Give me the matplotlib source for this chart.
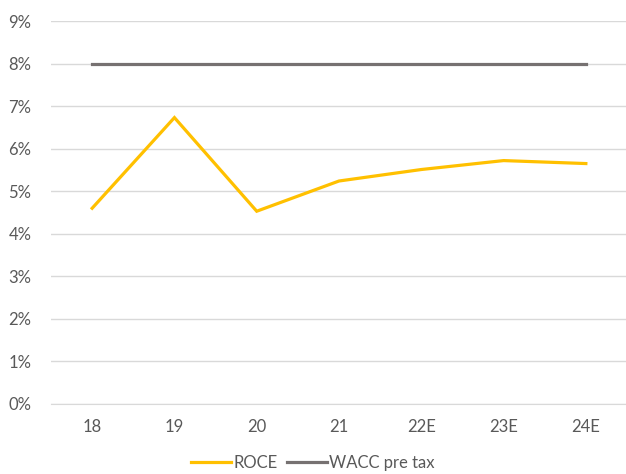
import matplotlib.pyplot as plt
from matplotlib.ticker import FuncFormatter

categories = ["18", "19", "20", "21", "22E", "23E", "24E"]
roce = [4.60, 6.73, 4.53, 5.24, 5.51, 5.72, 5.65]
wacc = [8.0, 8.0, 8.0, 8.0, 8.0, 8.0, 8.0]

plt.rcParams['font.family'] = ['Lato', 'DejaVu Sans']
fig = plt.figure(figsize=(6.26, 4.74), dpi=100)
ax = fig.add_axes([51/626, 1-404/474, 576/626, 383/474])

x = range(len(categories))
ax.plot(x, roce, color='#FFC000', lw=2.3, label='ROCE', solid_joinstyle='miter')
ax.plot(x, wacc, color='#767171', lw=2.3, label='WACC pre tax')

ax.set_xlim(-0.5, len(categories) - 0.5)
ax.set_ylim(0, 9)
ax.set_yticks(range(0, 10))
ax.yaxis.set_major_formatter(FuncFormatter(lambda v, p: f"{int(v)}%"))
ax.set_xticks(list(x))
ax.set_xticklabels(categories)
ax.grid(axis='y', color='#D9D9D9', lw=1)
ax.set_axisbelow(True)
for s in ['top', 'right', 'left']:
    ax.spines[s].set_visible(False)
ax.spines['bottom'].set_color('#D9D9D9')
ax.tick_params(axis='both', length=0, colors='#595959', labelsize=12)
ax.tick_params(axis='x', pad=11)
ax.tick_params(axis='y', pad=14)

leg = fig.legend(loc='center', bbox_to_anchor=(0.5, 1-463/474), ncol=2, frameon=False,
                 fontsize=12, handlelength=2.4, handletextpad=0.1, columnspacing=0.6)
for t in leg.get_texts():
    t.set_color('#595959')

fig.savefig('out.png', dpi=100)
